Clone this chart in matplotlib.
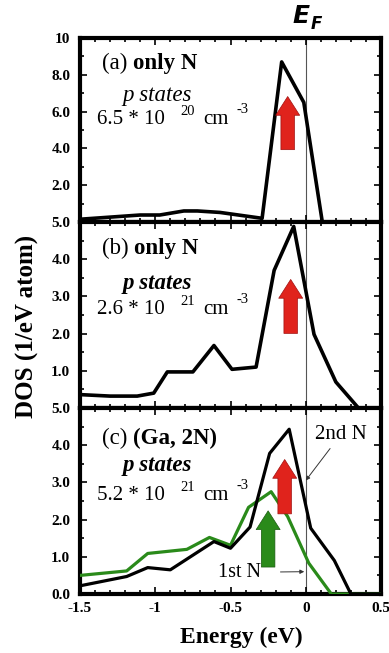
import matplotlib
matplotlib.use("Agg")
import matplotlib.pyplot as plt
from matplotlib.ticker import MultipleLocator, FixedLocator

# ---- data ----
a_E = [-1.5, -1.1, -0.97, -0.81, -0.72, -0.57, -0.29, -0.16, -0.013, 0.11, 0.5]
a_D = [0.15, 0.38, 0.38, 0.6, 0.6, 0.52, 0.2, 8.7, 6.5, 0.0, 0.0]

b_E = [-1.5, -1.3, -1.12, -1.01, -0.92, -0.75, -0.61, -0.49, -0.33, -0.21, -0.08, 0.055, 0.2, 0.35, 0.5]
b_D = [0.36, 0.32, 0.32, 0.4, 0.97, 0.97, 1.68, 1.04, 1.1, 3.7, 4.88, 1.98, 0.7, 0.0, 0.0]

c2_E = [-1.5, -1.19, -1.05, -0.9, -0.61, -0.5, -0.37, -0.24, -0.11, 0.033, 0.19, 0.3, 0.5]
c2_D = [0.22, 0.47, 0.71, 0.65, 1.41, 1.23, 1.8, 3.78, 4.43, 1.77, 0.9, 0.0, 0.0]

c1_E = [-1.5, -1.19, -1.05, -0.79, -0.64, -0.5, -0.38, -0.23, -0.12, 0.02, 0.17, 0.5]
c1_D = [0.5, 0.62, 1.09, 1.2, 1.52, 1.31, 2.33, 2.75, 2.08, 0.83, 0.0, 0.0]

ylims = [10, 5, 5]
yticks = [[0, 2, 4, 6, 8, 10], [0, 1, 2, 3, 4, 5], [0, 1, 2, 3, 4, 5]]
yticklabels = [["", "2.0", "4.0", "6.0", "8.0", "10"],
               ["", "1.0", "2.0", "3.0", "4.0", "5.0"],
               ["0.0", "1.0", "2.0", "3.0", "4.0", "5.0"]]
xticks = [-1.5, -1, -0.5, 0, 0.5]
xticklabels = ["-1.5", "-1", "-0.5", "0", "0.5"]

titles = ["(a) ", "(b) ", "(c) "]
bold_titles = ["only N", "only N", "(Ga, 2N)"]
dens_mant = ["6.5 * 10", "2.6 * 10", "5.2 * 10"]
dens_exp = ["20", "21", "21"]

# red arrows: (x, y_bottom, y_top)
red_arrows = [(-0.12, 3.78, 6.97), (-0.10, 1.93, 3.53), (-0.14, 2.08, 3.69)]
green_arrow = (-0.25, 0.65, 2.31)

serif = ["Liberation Serif", "DejaVu Serif"]

fig = plt.figure(figsize=(3.89, 6.53), dpi=100)
left, width = 80 / 389, 301 / 389
tops = [38, 222, 408]
bots = [222, 408, 594]
axes = []
for i in range(3):
    b = 1 - bots[i] / 653
    h = (bots[i] - tops[i]) / 653
    ax = fig.add_axes([left, b, width, h])
    axes.append(ax)

title_y = [0.864, 0.86, 0.835]
ps_y = [0.69, 0.67, 0.69]
dens_y = [0.555, 0.53, 0.53]
ps_weight = ["normal", "bold", "bold"]

for i, ax in enumerate(axes):
    ax.set_xlim(-1.5, 0.5)
    ax.set_ylim(0, ylims[i])
    for s in ax.spines.values():
        s.set_linewidth(3)
    ax.xaxis.set_major_locator(FixedLocator(xticks))
    ax.xaxis.set_minor_locator(MultipleLocator(0.1))
    ax.yaxis.set_major_locator(FixedLocator(yticks[i]))
    ax.yaxis.set_minor_locator(MultipleLocator(yticks[i][1] / 2))
    ax.tick_params(which="both", direction="in", top=True, right=True, width=1.2)
    ax.tick_params(which="major", length=5)
    ax.tick_params(which="minor", length=3)
    ax.set_yticklabels(yticklabels[i], fontfamily=serif, fontsize=11, fontweight="bold")
    if i < 2:
        ax.set_xticklabels([])
    else:
        ax.set_xticklabels(xticklabels, fontfamily=serif, fontsize=11, fontweight="bold")
    ax.tick_params(axis="y", pad=7)
    ax.tick_params(axis="x", pad=6)
    ax.axvline(0.0, color="#555555", lw=0.8, zorder=1)

    # panel text
    t = ax.text(0.073, title_y[i], titles[i], transform=ax.transAxes, fontfamily=serif,
                fontsize=16.5, va="center", ha="left")
    ax.annotate(bold_titles[i], xycoords=t, xy=(1, 0.5), va="center", ha="left",
                fontfamily=serif, fontsize=16.5, fontweight="bold")
    ax.text(0.256, ps_y[i], "p states", transform=ax.transAxes, fontfamily=serif,
            fontsize=16.5, fontweight=ps_weight[i], fontstyle="italic", ha="center", va="center")
    ax.text(0.056, dens_y[i], dens_mant[i], transform=ax.transAxes, fontfamily=serif,
            fontsize=15, ha="left", va="center")
    ax.text(0.332, dens_y[i] + 0.045, dens_exp[i], transform=ax.transAxes, fontfamily=serif,
            fontsize=10.5, ha="left", va="center")
    ax.text(0.409, dens_y[i], "cm", transform=ax.transAxes, fontfamily=serif,
            fontsize=15, ha="left", va="center")
    ax.text(0.52, dens_y[i] + 0.055, "-3", transform=ax.transAxes, fontfamily=serif,
            fontsize=10.5, ha="left", va="center")

    x, y0, y1 = red_arrows[i]
    ax.annotate("", xy=(x, y1), xytext=(x, y0),
                arrowprops=dict(arrowstyle="simple,head_length=0.9,head_width=1.15,tail_width=0.65",
                                fc="#e0231c", ec="#a01010", lw=0.5, mutation_scale=15),
                zorder=5)

axes[0].plot(a_E, a_D, color="black", lw=2.6, zorder=3)
axes[1].plot(b_E, b_D, color="black", lw=2.6, zorder=3)
axes[2].plot(c1_E, c1_D, color="#2a8a1a", lw=2.3, zorder=3)
axes[2].plot(c2_E, c2_D, color="black", lw=2.3, zorder=4)

x, y0, y1 = green_arrow
axes[2].annotate("", xy=(x, y1), xytext=(x, y0),
                 arrowprops=dict(arrowstyle="simple,head_length=0.9,head_width=1.15,tail_width=0.65",
                                 fc="#2a8a1a", ec="#1a5a10", lw=0.5, mutation_scale=15),
                 zorder=5)

axes[2].annotate("2nd N", xy=(0.0, 3.05), xytext=(0.235, 4.3),
                 fontfamily=serif, fontsize=15, ha="center", va="center",
                 arrowprops=dict(arrowstyle="-|>", color="#333333", lw=0.7,
                                 shrinkA=2, shrinkB=0, mutation_scale=6))
axes[2].annotate("1st N", xy=(-0.01, 0.6), xytext=(-0.44, 0.58),
                 fontfamily=serif, fontsize=14.5, ha="center", va="center",
                 arrowprops=dict(arrowstyle="-|>", color="#333333", lw=0.7,
                                 shrinkA=12, shrinkB=0, mutation_scale=6))

fig.text(27 / 389, 1 - 326 / 653, "DOS (1/eV atom)", rotation=90, fontfamily=serif,
         fontsize=18, fontweight="bold", ha="center", va="center")
fig.text(241 / 389, 1 - 637 / 653, "Energy (eV)", fontfamily=serif,
         fontsize=17, fontweight="bold", ha="center", va="center")
fig.text(301 / 389, 1 - 16 / 653, "E", fontfamily="DejaVu Sans", fontsize=18,
         fontweight="bold", fontstyle="italic", ha="center", va="center")
fig.text(316 / 389, 1 - 24 / 653, "F", fontfamily="DejaVu Sans", fontsize=12,
         fontweight="bold", fontstyle="italic", ha="center", va="center")

fig.savefig("out.png", dpi=100)
